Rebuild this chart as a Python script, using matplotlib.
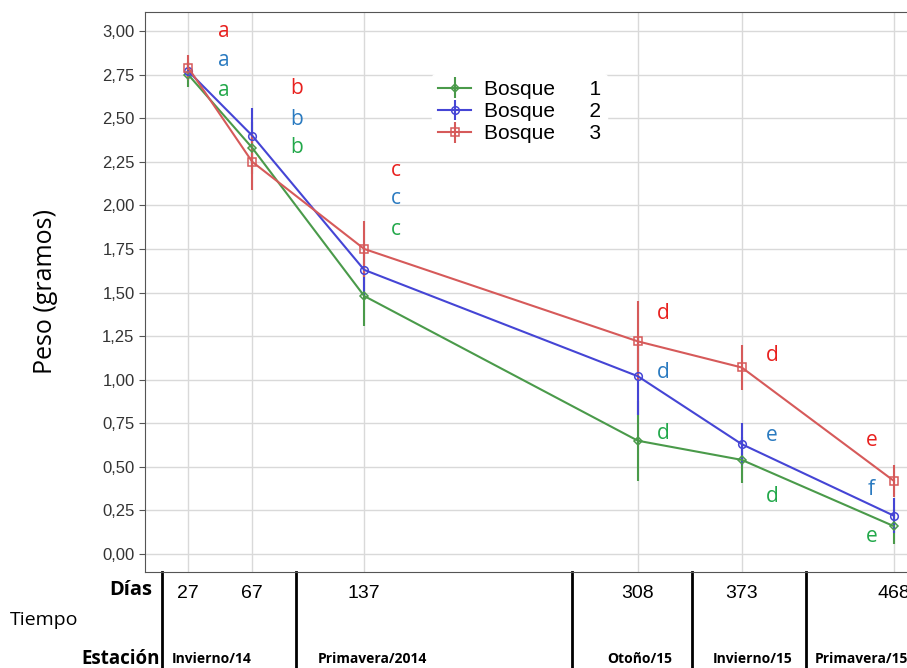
import matplotlib
matplotlib.use("Agg")
import matplotlib.pyplot as plt
import matplotlib.transforms as mtransforms

# datos
dias = [27, 67, 137, 308, 373, 468]
bosque1 = [2.75, 2.33, 1.48, 0.65, 0.54, 0.16]
bosque2 = [2.77, 2.40, 1.63, 1.02, 0.63, 0.22]
bosque3 = [2.79, 2.25, 1.75, 1.22, 1.07, 0.42]
err1 = [0.07, 0.15, 0.17, 0.23, 0.13, 0.10]
err2 = [0.05, 0.16, 0.15, 0.22, 0.12, 0.10]
err3 = [0.07, 0.16, 0.16, 0.23, 0.13, 0.09]
letras1 = ["a", "b", "c", "d", "d", "e"]
letras2 = ["a", "b", "c", "d", "e", "f"]
letras3 = ["a", "b", "c", "d", "d", "e"]
estaciones = ["Invierno/14", "Primavera/2014", "Otoño/15", "Invierno/15", "Primavera/15"]
limites = [10.75, 94.5, 267, 342, 413]   # separadores entre estaciones (días)
yticks = [0, 0.25, 0.5, 0.75, 1.0, 1.25, 1.5, 1.75, 2.0, 2.25, 2.5, 2.75, 3.0]

# posiciones de las letras (x en días, y por serie)
letra_x = [49, 95, 157, 324, 392, 454]
letra_y3 = [3.00, 2.67, 2.20, 1.38, 1.14, 0.65]
letra_y2 = [2.83, 2.49, 2.04, 1.04, 0.68, 0.37]
letra_y1 = [2.66, 2.33, 1.86, 0.69, 0.33, 0.10]

c_linea = {"1": "#4a9a4a", "2": "#4545d5", "3": "#d65a5a"}
c_letra = {"1": "#22a84a", "2": "#2a7ac0", "3": "#e8201e"}

fig = plt.figure(figsize=(9.07, 6.68), dpi=100)
ax = fig.add_axes([145 / 907, 96 / 668, 768 / 907, 560 / 668])

series = [(bosque1, err1, "D", "1", 4.5), (bosque2, err2, "o", "2", 5.5), (bosque3, err3, "s", "3", 6)]
for vals, err, mk, k, ms in series:
    ax.errorbar(dias, vals, yerr=err, color=c_linea[k], marker=mk, markersize=ms,
                markerfacecolor="none", markeredgewidth=1.1, linewidth=1.5,
                elinewidth=1.5, capsize=0, label="Bosque      " + k, zorder=3)

for lx, l1, l2, l3, y1, y2, y3 in zip(letra_x, letras1, letras2, letras3, letra_y1, letra_y2, letra_y3):
    ax.text(lx, y3, l3, color=c_letra["3"], fontsize=15, ha="center", va="center", family="Open Sans")
    ax.text(lx, y2, l2, color=c_letra["2"], fontsize=15, ha="center", va="center", family="Open Sans")
    ax.text(lx, y1, l1, color=c_letra["1"], fontsize=15, ha="center", va="center", family="Open Sans")

ax.set_xlim(0, 480)
ax.set_ylim(-0.103, 3.109)
ax.set_yticks(yticks)
ax.set_yticklabels([f"{v:.2f}".replace(".", ",") for v in yticks], fontsize=12,
                   color="#333333", family="Liberation Sans")
ax.set_xticks(dias)
ax.set_xticklabels([str(d) for d in dias], fontsize=14, family=["Liberation Sans Narrow", "Liberation Sans"])
ax.tick_params(axis="x", length=0, pad=9)
ax.tick_params(axis="y", length=4, color="#555555")
ax.grid(True, color="#d9d9d9", linewidth=1)
ax.set_axisbelow(True)
for s in ["left", "top", "bottom"]:
    ax.spines[s].set_color("#555555")
ax.spines["right"].set_visible(False)

leg = ax.legend(loc="upper left", bbox_to_anchor=(0.36, 0.908), frameon=True,
                edgecolor="white", framealpha=1, handlelength=1.6, handletextpad=0.6,
                labelspacing=0.15, borderpad=0.3, prop={"family": "Liberation Sans", "size": 15})

ax.set_ylabel("Peso (gramos)", fontsize=18, family="Open Sans", labelpad=32)

# parte inferior: separadores y textos
trans = mtransforms.blended_transform_factory(ax.transData, ax.transAxes)
for xl in limites:
    ax.plot([xl, xl], [0, -0.175], transform=trans, color="black", linewidth=2, clip_on=False)

fig.text(131 / 907, 1 - 590 / 668, "Días", fontsize=14.5, fontweight="bold", ha="center", va="center",
         family="Open Sans")
fig.text(10 / 907, 1 - 620 / 668, "Tiempo", fontsize=14, ha="left", va="center", family="Open Sans")
fig.text(160 / 907, 1 - 659 / 668, "Estación", fontsize=13.5, fontweight="bold", ha="right", va="center",
         family="Open Sans")
est_x = [172, 318, 607, 713, 815]
for ex, et in zip(est_x, estaciones):
    fig.text(ex / 907, 1 - 659 / 668, et, fontsize=10, fontweight="bold", ha="left", va="center",
             family="Open Sans")

fig.savefig("out.png", dpi=100)
